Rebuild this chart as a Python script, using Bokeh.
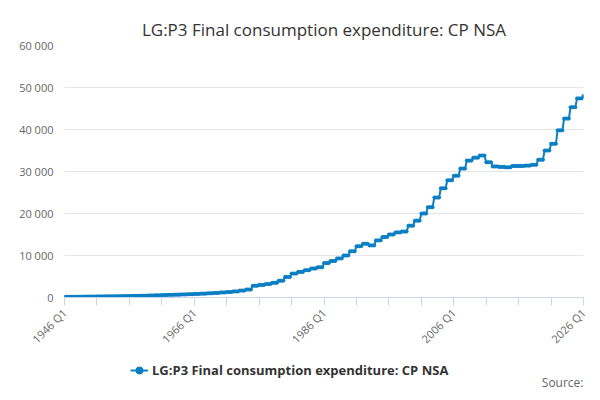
from bokeh.plotting import figure
from bokeh.layouts import column
from bokeh.models import FixedTicker, Legend, LegendItem, Label, ColumnDataSource
from bokeh.embed import file_html
from bokeh.resources import INLINE
import math

years = list(range(1946, 2027))
annual = [150, 170, 190, 210, 230, 250, 270, 290, 310, 340, 370, 400, 430,
          480, 530, 580, 630, 680, 730, 790, 850, 920, 1000,
          1100, 1200, 1300, 1450, 1650, 1900, 2800, 3000, 3200, 3500,
          4000, 4900, 5700, 6100, 6500, 6900, 7200, 8200, 8700, 9300,
          10000, 11000, 12200, 12800, 12400, 13600, 14400, 15000, 15500, 15700,
          17100, 18300, 20000, 21500, 23800, 26000, 27900, 29000, 30700, 32600,
          33300, 33800, 32200, 31200, 31100, 31000, 31300, 31300, 31400, 31600,
          32800, 35000, 36600, 39800, 42600, 45300, 47400, 48000]
series_name = "LG:P3 Final consumption expenditure: CP NSA"
color = "#0a7fc4"

xs, ys = [], []
for i, (yr, v) in enumerate(zip(years, annual)):
    nq = 1 if yr == 2026 else 4
    for q in range(nq):
        xs.append(i * 4 + q)
        ys.append(v)
src = ColumnDataSource(dict(x=xs, y=ys))

p = figure(width=592, height=357, output_backend="svg", toolbar_location=None,
           x_range=(0, 320), y_range=(0, 60000),
           min_border_left=64, min_border_right=9, min_border_top=45, min_border_bottom=60)
p.outline_line_color = None

p.title.text = "LG:P3 Final consumption expenditure: CP NSA"
p.title.align = "center"
p.title.text_font = "Open Sans"
p.title.text_font_size = "17px"
p.title.text_font_style = "normal"
p.title.text_color = "#333333"

p.line("x", "y", source=src, line_color=color, line_width=2)
p.scatter("x", "y", source=src, size=3, color=color)

xt = list(range(0, 321, 20))
p.xaxis.ticker = FixedTicker(ticks=xt)
p.xaxis.major_label_overrides = {t: (f"{1946 + t // 4} Q1" if t % 80 == 0 else "") for t in xt}
p.xaxis.major_label_orientation = math.pi / 4
p.xaxis.axis_line_color = "#ccd6eb"
p.xaxis.major_tick_line_color = "#ccd6eb"
p.xaxis.major_tick_in = 0
p.xaxis.major_tick_out = 8
p.xaxis.minor_tick_line_color = None
p.xaxis.major_label_text_font_size = "11px"
p.xaxis.major_label_text_color = "#666666"
p.xaxis.major_label_text_font = "Open Sans"

yt = list(range(0, 60001, 10000))
p.yaxis.ticker = FixedTicker(ticks=yt)
p.yaxis.major_label_overrides = {t: (f"{t:,}".replace(",", " ")) for t in yt}
p.yaxis.axis_line_color = None
p.yaxis.major_tick_line_color = None
p.yaxis.minor_tick_line_color = None
p.yaxis.major_label_text_font_size = "11px"
p.yaxis.major_label_text_color = "#666666"
p.yaxis.major_label_text_font = "Open Sans"
p.xgrid.grid_line_color = None
p.ygrid.grid_line_color = "#e6e6e6"

# legend strip
f2 = figure(width=592, height=35, output_backend="svg", toolbar_location=None,
            x_range=(0, 1), y_range=(0, 1), min_border=0)
f2.axis.visible = False
f2.grid.visible = False
f2.outline_line_color = None
dummy = ColumnDataSource(dict(x=[-5], y=[-5]))
g1 = f2.line("x", "y", source=dummy, line_color=color, line_width=2)
g2 = f2.scatter("x", "y", source=dummy, size=4, color=color)
legend = Legend(items=[LegendItem(label=series_name, renderers=[g1, g2])],
                orientation="horizontal", location=(66, 12),
                label_text_font="Open Sans", label_text_font_size="13px",
                label_text_font_style="bold", label_text_color="#333333",
                border_line_color=None, background_fill_alpha=0,
                glyph_width=18, margin=0, padding=2, label_standoff=4)
f2.add_layout(legend, "center")
f2.add_layout(Label(x=519, y=2, x_units="screen", y_units="screen", text="Source:",
                    text_align="right", text_baseline="bottom", text_font="Open Sans",
                    text_font_size="12px", text_color="#666666"))

open("out.html", "w").write(file_html(column(p, f2, spacing=0), INLINE))
